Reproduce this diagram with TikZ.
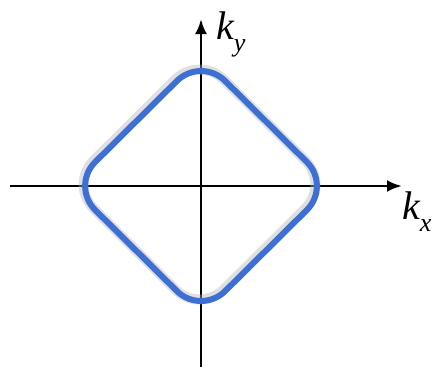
\documentclass[tikz,border=0pt]{standalone}
\usepackage{fontspec}
\setmainfont{Liberation Serif}
\usepackage{tikz}
\usetikzlibrary{arrows.meta,calc,positioning}
\definecolor{fermiblue}{RGB}{62,112,212}
\newcommand{\kvec}[1]{\itshape k\raisebox{-0.3em}{\fontsize{26}{28}\selectfont #1}}

\begin{document}
\begin{tikzpicture}[x=1pt,y=-1pt]
  \useasboundingbox (0,0) rectangle (436,370);

  % Axes
  \coordinate (o) at (201,186);
  \coordinate (xl) at (10,186);
  \coordinate (xr) at (402,186);
  \coordinate (yb) at (201,367);
  \coordinate (yt) at (201,19);
  \draw[line width=2.8pt,-{Latex[length=15pt,width=12pt]}] (xl) -- (xr);
  \draw[line width=2.8pt,-{Latex[length=15pt,width=12pt]}] (yb) -- (yt);

  % Fermi surface (rounded diamond)
  \draw[line width=10pt,black!30,opacity=0.4,rounded corners=34pt,shift={(-1.5,-1.5)}]
    (71,186) -- (201,57) -- (331,186) -- (201,315) -- cycle;
  \draw[line width=6pt,fermiblue,rounded corners=34pt]
    (71,186) -- (201,57) -- (331,186) -- (201,315) -- cycle;

  % Labels
  \node[anchor=west,inner sep=0pt] (lky) at (216,34) {\fontsize{40}{44}\selectfont\kvec{y}};
  \node[anchor=west,inner sep=0pt] (lkx) at (402,212) {\fontsize{40}{44}\selectfont\kvec{x}};
\end{tikzpicture}
\end{document}
